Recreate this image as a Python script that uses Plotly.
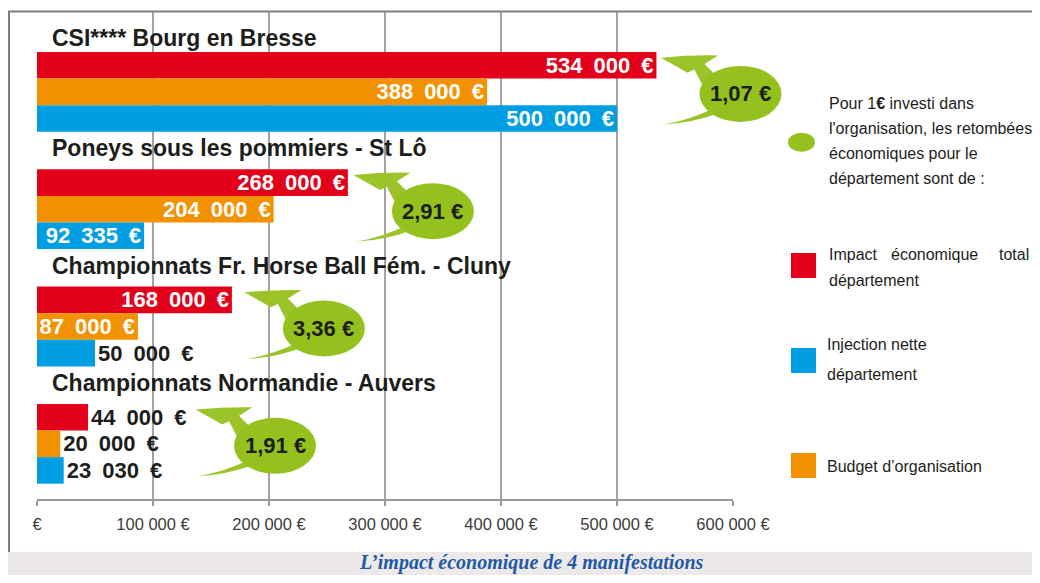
import plotly.graph_objects as go

# ---------------- data ----------------
events = ["CSI**** Bourg en Bresse",
          "Poneys sous les pommiers - St Lô",
          "Championnats Fr. Horse Ball Fém. - Cluny",
          "Championnats Normandie - Auvers"]
impact_total = [534000, 268000, 168000, 44000]     # Impact économique total département
budget = [388000, 204000, 87000, 20000]             # Budget d'organisation
injection = [500000, 92335, 50000, 23030]           # Injection nette département
ratio_labels = ["1,07 €", "2,91 €", "3,36 €", "1,91 €"]
tick_values = [0, 100000, 200000, 300000, 400000, 500000, 600000]
tick_labels = ["€", "100 000 €", "200 000 €", "300 000 €", "400 000 €", "500 000 €", "600 000 €"]
legend_note = ["Pour 1<b>€</b> investi dans", "l'organisation, les retombées",
               "économiques pour le", "département sont de :"]

series = [
    ("Impact économique total département", impact_total, "#e2001a"),
    ("Budget d’organisation", budget, "#f39200"),
    ("Injection nette département", injection, "#009fe3"),
]

# ---------------- layout constants (screen pixels) ----------------
SW, SH = 1040, 583           # browser window
OFF = 8                      # default page body margin (both sides)
W, H = SW - 2 * OFF, SH - 2 * OFF   # figure size: page fits the window, no scrollbars
FIG_R, FIG_B = OFF + W, OFF + H     # right / bottom edge of figure in screen px
L, R, T, B = 37, 733, 11, 499       # plot area in screen px
XMAX = 600000
GROUP_TOP0 = 41.0      # top of first red bar (px below plot top)
GROUP_STEP = 117.3
BAR_H = 26.6
LABEL_GAP = [14, 21, 21, 21]      # category label above first bar
CALLOUT_GAP = [84, 85, 92, 187]   # bubble centre right of red bar end (px)
INSIDE_MIN = 80000

BOLD = "Liberation Sans, Arial, sans-serif"
SANS = "Liberation Sans, Arial, sans-serif"
DARK = "#1d1d1b"
GREEN = "#95c11f"
GREEN_ARROW = "#9cc42a"
LEG = 16


def x2px(v):
    return L + v / XMAX * (R - L)


def paper_x(px):
    return (px - L) / (R - L)


def paper_y(py):
    return (B - py) / (B - T)


def bar_center(g, s):
    return GROUP_TOP0 + g * GROUP_STEP + s * BAR_H + BAR_H / 2


def fmt(v):
    return f"{v:,}".replace(",", "\u2002") + "\u2002€"


def text_ann(txt, xp, yp, size, xanchor="left", family=SANS, color=DARK):
    return dict(xref="paper", yref="paper", x=paper_x(xp), y=paper_y(yp), text=txt,
                xanchor=xanchor, yanchor="middle", showarrow=False, align=xanchor,
                font=dict(family=family, size=size, color=color))


fig = go.Figure()

for s, (name, vals, col) in enumerate(series):
    fig.add_trace(go.Bar(
        name=name,
        x=vals,
        y=[bar_center(g, s) for g in range(len(vals))],
        orientation="h",
        width=BAR_H,
        marker=dict(color=col, line=dict(width=0)),
        text=[fmt(v) for v in vals],
        textposition=["inside" if v >= INSIDE_MIN else "outside" for v in vals],
        insidetextanchor="end",
        constraintext="none",
        textfont=dict(family=BOLD, size=22, weight="bold"),
        insidetextfont=dict(family=BOLD, size=22, color="white", weight="bold"),
        outsidetextfont=dict(family=BOLD, size=22, color=DARK, weight="bold"),
        cliponaxis=False,
        hoverinfo="skip",
    ))

shapes = []
annotations = []

# category labels
for g, ev in enumerate(events):
    red_top = T + GROUP_TOP0 + g * GROUP_STEP
    annotations.append(text_ann(f"<b>{ev}</b>", 50, red_top - LABEL_GAP[g], 23, family=BOLD))

# callouts (green bubbles with arrows), offsets in px from bubble centre
arrow_pts = [(-79.5, -36.2), (-22.5, -38.5), (-36, -30), (-18, -12),
             (-36, -5), (-46, -24.5), (-52.8, -21.2)]
tail_pts = [(-77, 30.5), (-50, 26), (-24, 13), (-21, 19), (-48, 29)]
RX, RY = 41, 28
for g, lab in enumerate(ratio_labels):
    cx = x2px(impact_total[g]) + CALLOUT_GAP[g]
    cy = T + bar_center(g, 1) + 2

    def P(p):
        return f"{paper_x(cx + p[0]):.5f},{paper_y(cy + p[1]):.5f}"

    ap = [P(p) for p in arrow_pts]
    shapes.append(dict(type="path", xref="paper", yref="paper",
                       path=f"M {ap[0]} Q {P((-50, -39))} {ap[1]} L {ap[2]} L {ap[3]} L {ap[4]} "
                            f"L {ap[5]} L {ap[6]} Z",
                       fillcolor=GREEN_ARROW, line=dict(width=0)))
    tp = [P(p) for p in tail_pts]
    shapes.append(dict(type="path", xref="paper", yref="paper",
                       path=f"M {tp[0]} Q {tp[1]} {tp[2]} L {tp[3]} Q {tp[4]} {tp[0]} Z",
                       fillcolor=GREEN_ARROW, line=dict(width=0)))
    shapes.append(dict(type="circle", xref="paper", yref="paper",
                       x0=paper_x(cx - RX), x1=paper_x(cx + RX),
                       y0=paper_y(cy + RY), y1=paper_y(cy - RY),
                       fillcolor=GREEN, line=dict(width=0)))
    annotations.append(text_ann(f"<b>{lab}</b>", cx, cy, 22, xanchor="center", family=BOLD))

# frame + caption band
shapes.append(dict(type="rect", xref="paper", yref="paper", x0=paper_x(OFF), x1=paper_x(FIG_R),
                   y0=paper_y(552), y1=paper_y(FIG_B), fillcolor="#ede9e9", line=dict(width=0),
                   layer="below"))
shapes.append(dict(type="line", xref="paper", yref="paper", x0=paper_x(OFF), x1=paper_x(FIG_R),
                   y0=paper_y(11.5), y1=paper_y(11.5), line=dict(color="#7d7d7d", width=2)))
shapes.append(dict(type="line", xref="paper", yref="paper", x0=paper_x(OFF + 1), x1=paper_x(OFF + 1),
                   y0=paper_y(11), y1=paper_y(552), line=dict(color="#7d7d7d", width=2)))

annotations.append(text_ann("<b><i>L’impact économique de 4 manifestations</i></b>", 531, 562, 20,
                            xanchor="center", family="Liberation Serif, serif", color="#1f5aa6"))

# custom legend
shapes.append(dict(type="circle", xref="paper", yref="paper", x0=paper_x(788), x1=paper_x(815),
                   y0=paper_y(151.7), y1=paper_y(132.7), fillcolor=GREEN, line=dict(width=0)))
for i, line in enumerate(legend_note):
    annotations.append(text_ann(line, 827, 103 + i * 25.3, LEG))

legend_items = [
    (series[0][2], 253, [("Impact", 827, 254, "left"), ("économique", 934, 254, "center"),
                          ("total", 1031, 254, "right"), ("département", 827, 280, "left")]),
    (series[2][2], 348, [("Injection nette", 825, 345, "left"), ("département", 825, 374, "left")]),
    (series[1][2], 453, [("Budget d’organisation", 825, 466, "left")]),
]
for col, top, texts in legend_items:
    shapes.append(dict(type="rect", xref="paper", yref="paper", x0=paper_x(791), x1=paper_x(816),
                       y0=paper_y(top + 25), y1=paper_y(top), fillcolor=col, line=dict(width=0)))
    for txt, xp, yp, anc in texts:
        annotations.append(text_ann(txt, xp, yp, LEG, xanchor=anc))

fig.update_layout(
    width=W, height=H,
    margin=dict(l=L - OFF, r=FIG_R - R, t=T - OFF, b=FIG_B - B, pad=0),
    paper_bgcolor="white", plot_bgcolor="white",
    showlegend=False,
    barmode="overlay",
    shapes=shapes,
    annotations=annotations,
    xaxis=dict(range=[0, XMAX], tickvals=tick_values, ticktext=tick_labels,
               showgrid=True, gridcolor="#a3a3a3", gridwidth=2, zeroline=False,
               showline=True, linecolor="#9a9a9a", linewidth=2,
               ticks="outside", ticklen=5, tickwidth=2, tickcolor="#9a9a9a",
               ticklabelstandoff=4,
               tickfont=dict(family=SANS, size=16.5, color="#3c3c3b"), fixedrange=True),
    yaxis=dict(range=[B - T, 0], visible=False, fixedrange=True),
)

fig.write_html("out.html")
